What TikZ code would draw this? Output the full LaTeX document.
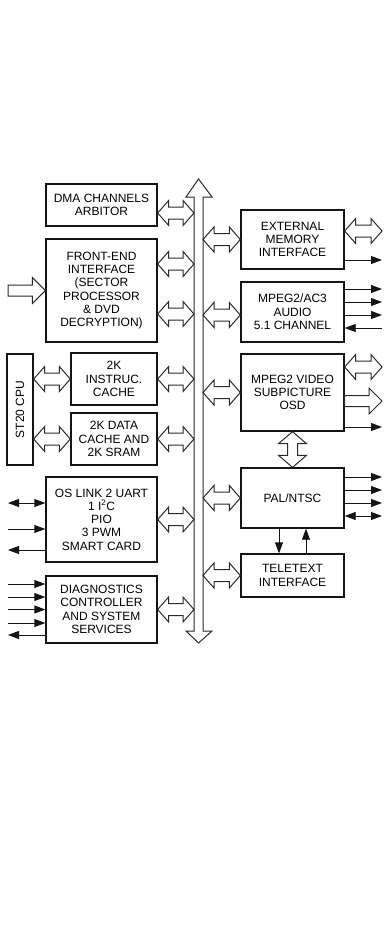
\documentclass[tikz,border=0pt]{standalone}
\usepackage{fontspec}
\setmainfont{Liberation Sans}
\usepackage{graphicx}
\usetikzlibrary{calc,arrows.meta}
\definecolor{FrameBlack}{HTML}{141414}
\definecolor{HollowGrey}{HTML}{2A2A2A}

\newcommand{\hollowdouble}[3][0]{%
  \draw[hollowline] let \p1=([yshift=#1pt]#2), \p2=([yshift=#1pt]#3) in
    (\x1,\y1) -- (\x1+11pt,\y1+12.5pt) -- (\x1+11pt,\y1+6pt) -- (\x2-11pt,\y1+6pt)
    -- (\x2-11pt,\y1+12.5pt) -- (\x2,\y1) -- (\x2-11pt,\y1-12.5pt) -- (\x2-11pt,\y1-6pt)
    -- (\x1+11pt,\y1-6pt) -- (\x1+11pt,\y1-12.5pt) -- cycle;}
\newcommand{\hollowsingle}[3][0]{%
  \draw[hollowline] let \p1=([yshift=#1pt]#2), \p2=([yshift=#1pt]#3) in
    (\x1,\y1+5.5pt) -- (\x2-13pt,\y1+5.5pt) -- (\x2-13pt,\y1+13pt) -- (\x2,\y1)
    -- (\x2-13pt,\y1-13pt) -- (\x2-13pt,\y1-5.5pt) -- (\x1,\y1-5.5pt) -- cycle;}
\newcommand{\hollowvdouble}[2]{%
  \draw[hollowline] let \p1=(#1), \p2=(#2) in
    (\x1,\y1) -- (\x1+14pt,\y1-12pt) -- (\x1+5pt,\y1-12pt) -- (\x1+5pt,\y2+12pt)
    -- (\x1+14pt,\y2+12pt) -- (\x1,\y2) -- (\x1-14pt,\y2+12pt) -- (\x1-5pt,\y2+12pt)
    -- (\x1-5pt,\y1-12pt) -- (\x1-14pt,\y1-12pt) -- cycle;}

\begin{document}
\begin{tikzpicture}[x=1pt, y=-1pt,
    blockbox/.style={draw=FrameBlack, line width=1.3pt, inner sep=0pt, align=center,
                     font=\fontsize{12}{13.3}\selectfont},
    hollowline/.style={draw=HollowGrey, line width=1pt, fill=white, line join=miter},
    signal/.style={draw=FrameBlack, line width=0.8pt},
    >={Triangle[length=11pt,width=8pt]}]
  \useasboundingbox (0,0) rectangle (383,942);

  \coordinate (leftend) at (8,0);
  \coordinate (rightend) at (382,0);
  \coordinate (busl) at (194,0);
  \coordinate (busr) at (203,0);

  \draw[hollowline] (198.5,179) -- (212,197) -- (203,197) -- (203,631) -- (212,631)
    -- (198.5,643) -- (186,631) -- (194,631) -- (194,197) -- (186,197) -- cycle;

  \node[blockbox, minimum width=111pt, minimum height=42pt] (dma) at (101.5,205)
    {DMA CHANNELS\\ARBITOR};
  \node[blockbox, minimum width=111pt, minimum height=103pt] (fe) at (101.5,290.5)
    {FRONT-END\\INTERFACE\\(SECTOR\\PROCESSOR\\\& DVD\\DECRYPTION)};
  \node[blockbox, minimum width=26pt, minimum height=111pt] (cpu) at (20,409.5)
    {\rotatebox{90}{ST20 CPU}};
  \node[blockbox, minimum width=86pt, minimum height=52pt] (icache) at (114,379)
    {2K\\INSTRUC.\\CACHE};
  \node[blockbox, minimum width=86pt, minimum height=52pt] (dcache) at (114,439)
    {2K DATA\\CACHE AND\\2K SRAM};
  \node[blockbox, minimum width=111pt, minimum height=85pt] (uart) at (101.5,519.5)
    {OS LINK 2 UART\\1 I\textsuperscript{2}C\\PIO\\3 PWM\\SMART CARD};
  \node[blockbox, minimum width=111pt, minimum height=67pt] (diag) at (101.5,609.5)
    {DIAGNOSTICS\\CONTROLLER\\AND SYSTEM\\SERVICES};

  \node[blockbox, minimum width=103pt, minimum height=59pt] (emi) at (292.5,239.5)
    {EXTERNAL\\MEMORY\\INTERFACE};
  \node[blockbox, minimum width=103pt, minimum height=60pt] (audio) at (292.5,312)
    {MPEG2/AC3\\AUDIO\\5.1 CHANNEL};
  \node[blockbox, minimum width=103pt, minimum height=77pt] (video) at (292.5,392.5)
    {MPEG2 VIDEO\\SUBPICTURE\\OSD};
  \node[blockbox, minimum width=103pt, minimum height=60pt] (pal) at (292.5,498)
    {PAL/NTSC};
  \node[blockbox, minimum width=103pt, minimum height=43pt] (ttx) at (292.5,575.5)
    {TELETEXT\\INTERFACE};

  \hollowdouble[-8]{dma.east}{dma.east -| busl}
  \hollowdouble[26.5]{fe.east}{fe.east -| busl}
  \hollowdouble[-23.5]{fe.east}{fe.east -| busl}
  \hollowsingle{fe.west -| leftend}{fe.west}
  \hollowdouble{icache.east}{icache.east -| busl}
  \hollowdouble{dcache.east}{dcache.east -| busl}
  \hollowdouble{cpu.east |- icache.west}{icache.west}
  \hollowdouble{cpu.east |- dcache.west}{dcache.west}
  \hollowdouble{uart.east}{uart.east -| busl}
  \hollowdouble{diag.east}{diag.east -| busl}

  \hollowdouble{emi.west -| busr}{emi.west}
  \hollowdouble[-3]{audio.west -| busr}{audio.west}
  \hollowdouble{video.west -| busr}{video.west}
  \hollowdouble{pal.west -| busr}{pal.west}
  \hollowdouble{ttx.west -| busr}{ttx.west}

  \hollowdouble[8.5]{emi.east}{emi.east -| rightend}
  \hollowdouble[25.5]{video.east}{video.east -| rightend}
  \hollowsingle[-8.5]{video.east}{video.east -| rightend}
  \hollowvdouble{video.south}{pal.north}

  \draw[signal,->] ([yshift=-20.5pt]emi.east) -- ([yshift=-20.5pt]emi.east -| rightend);
  \foreach \dy in {23,10,-3}
    \draw[signal,->] ([yshift=\dy pt]audio.east) -- ([yshift=\dy pt]audio.east -| rightend);
  \draw[signal,<-] ([yshift=-16pt]audio.east) -- ([yshift=-16pt]audio.east -| rightend);
  \draw[signal,->] ([yshift=-34.5pt]video.east) -- ([yshift=-34.5pt]video.east -| rightend);
  \foreach \dy in {21,8,-5}
    \draw[signal,->] ([yshift=\dy pt]pal.east) -- ([yshift=\dy pt]pal.east -| rightend);
  \draw[signal,<->] ([yshift=-18pt]pal.east) -- ([yshift=-18pt]pal.east -| rightend);

  \draw[signal,->] ([xshift=-13.5pt]pal.south) -- ([xshift=-13.5pt]pal.south |- ttx.north);
  \draw[signal,<-] ([xshift=13.5pt]pal.south) -- ([xshift=13.5pt]pal.south |- ttx.north);

  \draw[signal,<->] ([yshift=16.5pt]uart.west) -- ([yshift=16.5pt]uart.west -| leftend);
  \draw[signal,<-] ([yshift=-9.5pt]uart.west) -- ([yshift=-9.5pt]uart.west -| leftend);
  \draw[signal,->] ([yshift=-30.5pt]uart.west) -- ([yshift=-30.5pt]uart.west -| leftend);
  \foreach \dy in {25.5,12.5,0,-13.5}
    \draw[signal,<-] ([yshift=\dy pt]diag.west) -- ([yshift=\dy pt]diag.west -| leftend);
  \draw[signal,->] ([yshift=-25.5pt]diag.west) -- ([yshift=-25.5pt]diag.west -| leftend);
\end{tikzpicture}
\end{document}
